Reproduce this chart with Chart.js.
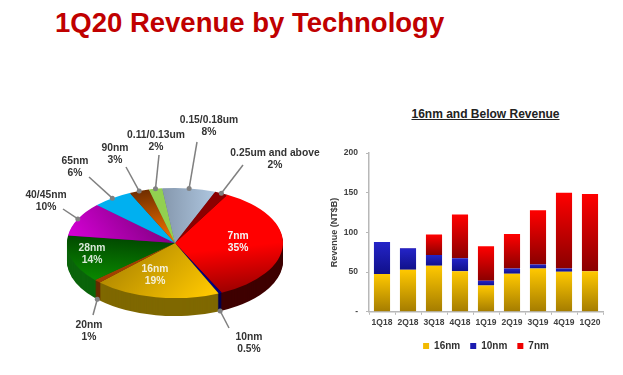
<!DOCTYPE html>
<html>
<head>
<meta charset="utf-8">
<title>1Q20 Revenue by Technology</title>
<script src="https://cdn.jsdelivr.net/npm/chart.js@4"></script>
<style>
  html, body { margin: 0; padding: 0; background: #fff; }
  body { position: relative; width: 623px; height: 375px; overflow: hidden; font-family: "Liberation Sans", Arial, sans-serif; filter: blur(0.4px); }
  #title { position: absolute; left: 55px; top: 7px; font-size: 27.5px; font-weight: bold; color: #c00000; white-space: nowrap; }
  #barTitle { position: absolute; left: 320px; width: 331px; top: 107px; text-align: center; font-size: 12px; font-weight: bold; color: #222; text-decoration: underline; white-space: nowrap; }
  #pie { position: absolute; left: 0; top: 100px; }
  #bars { position: absolute; left: 320px; top: 140px; }
</style>
</head>
<body>
<div id="title">1Q20 Revenue by Technology</div>
<div id="barTitle">16nm and Below Revenue</div>
<canvas id="pie" width="320" height="275"></canvas>
<canvas id="bars" width="303" height="235"></canvas>
<script>
// pie: share of 1Q20 revenue
const techNames = ["7nm", "10nm", "16nm", "20nm", "28nm", "40/45nm", "65nm", "90nm", "0.11/0.13um", "0.15/0.18um", "0.25um and above"];
const techShares = [35, 0.5, 19, 1, 14, 10, 6, 3, 2, 8, 2];
const techShareText = ["35%", "0.5%", "19%", "1%", "14%", "10%", "6%", "3%", "2%", "8%", "2%"];

// bars: revenue per quarter, NT$B
const quarters = ["1Q18", "2Q18", "3Q18", "4Q18", "1Q19", "2Q19", "3Q19", "4Q19", "1Q20"];
const rev16nm = [47.5, 53, 58, 51, 33, 48, 54.5, 50.5, 51];
const rev10nm = [40.5, 27, 13.5, 16.5, 6, 6.5, 5, 4, 0.5];
const rev7nm = [0, 0.5, 26, 55, 43.5, 43.5, 68.5, 95.5, 97];

// pie look: top face gradient (x0,y0,x1,y1 in radius units, from colour, to colour), side colour
const sliceLook = [
  [0, 0.2, 0.2, 1.1, "#ff0000", "#8c0000", "#3f0000"],
  [0, 0, 0, 1, "#000080", "#000080", "#000050"],
  [-0.6, 0.3, 0.4, 0.8, "#ae8600", "#ffc800", "#7f6800"],
  [0, 0, 0, 1, "#a04000", "#a04000", "#6a2a00"],
  [-0.5, -0.2, -0.6, 0.7, "#004000", "#0a8a00", "#0a640a"],
  [0, -0.3, -1, 0.1, "#7a007a", "#e000e0", "#600060"],
  [0, 0, 0, 1, "#00b0f0", "#00b0f0", "#0080b0"],
  [-0.3, -1, 0, -0.1, "#6a2a00", "#f07000", "#6a2a00"],
  [0, 0, 0, 1, "#92d050", "#92d050", "#608a30"],
  [-0.2, -0.8, 0.5, -0.8, "#7f90a5", "#b8d2ec", "#607080"],
  [0, 0, 0, 1, "#8b0000", "#8b0000", "#500000"]
];

// label centre and leader end on the page, null leader = label sits on the slice
const labelSpots = [
  { x: 238, y: 236, end: null, color: "#f4f4f4" },
  { x: 249, y: 337, end: [229, 328], color: "#333" },
  { x: 155, y: 269, end: null, color: "#f4f0d8" },
  { x: 89, y: 325, end: [93, 315], color: "#333" },
  { x: 92, y: 248, end: null, color: "#d8e8d8" },
  { x: 46, y: 195, end: [63, 209], color: "#333" },
  { x: 75, y: 161, end: [89, 177], color: "#333" },
  { x: 115, y: 148, end: [126, 167], color: "#333" },
  { x: 156, y: 135, end: [159, 155], color: "#333" },
  { x: 209, y: 120, end: [197, 142], color: "#333" },
  { x: 275, y: 153, end: [243, 165], color: "#333" }
];

const squash = 0.51;
const depth = 18;
const pieTop = 100;

Chart.defaults.font.family = '"Liberation Sans", Arial, sans-serif';
Chart.defaults.animation = false;

function sliceFill(context) {
  const look = sliceLook[context.dataIndex];
  if (!look) return "#888";
  const area = context.chart.chartArea;
  if (!area) return look[4];
  const cx = (area.left + area.right) / 2;
  const cy = (area.top + area.bottom) / 2;
  const r = (area.right - area.left) / 2;
  const g = context.chart.ctx.createLinearGradient(cx + look[0] * r, cy + look[1] * r, cx + look[2] * r, cy + look[3] * r);
  g.addColorStop(0, look[4]);
  g.addColorStop(1, look[5]);
  return g;
}

const tiltPlugin = {
  id: "tilt",
  beforeDatasetDraw(chart, args) {
    const ctx = chart.ctx;
    const arcs = args.meta.data;
    const cx = arcs[0].x;
    const cy = arcs[0].y;
    ctx.save();
    ctx.translate(0, cy);
    ctx.scale(1, squash);
    ctx.translate(0, -cy);
    // side wall, painted from the bottom up
    for (let d = depth; d > 0; d--) {
      arcs.forEach((arc, i) => {
        ctx.fillStyle = sliceLook[i][6];
        ctx.beginPath();
        ctx.moveTo(cx, cy + d / squash);
        ctx.arc(cx, cy + d / squash, arc.outerRadius, arc.startAngle, arc.endAngle);
        ctx.closePath();
        ctx.fill();
      });
    }
  },
  afterDatasetDraw(chart, args) {
    chart.ctx.restore();
    drawPieLabels(chart, args.meta.data);
  }
};

function drawPieLabels(chart, arcs) {
  const ctx = chart.ctx;
  ctx.save();
  ctx.textAlign = "center";
  ctx.textBaseline = "middle";
  ctx.font = 'bold 10.3px "Liberation Sans", Arial, sans-serif';
  arcs.forEach((arc, i) => {
    const spot = labelSpots[i];
    if (spot.end) {
      const mid = (arc.startAngle + arc.endAngle) / 2;
      let px = arc.x + arc.outerRadius * Math.cos(mid);
      let py = arc.y + arc.outerRadius * Math.sin(mid) * squash;
      if (Math.sin(mid) > 0) py += depth;
      ctx.strokeStyle = "#808080";
      ctx.fillStyle = "#808080";
      ctx.lineWidth = 1.5;
      ctx.beginPath();
      ctx.moveTo(px, py);
      ctx.lineTo(spot.end[0], spot.end[1] - pieTop);
      ctx.stroke();
      ctx.beginPath();
      ctx.arc(px, py, 2.5, 0, Math.PI * 2);
      ctx.fill();
    }
    ctx.fillStyle = spot.color;
    ctx.fillText(techNames[i], spot.x, spot.y - pieTop);
    ctx.fillText(techShareText[i], spot.x, spot.y - pieTop + 12.5);
  });
  ctx.restore();
}

new Chart(document.getElementById("pie"), {
  type: "pie",
  data: {
    labels: techNames,
    datasets: [{ data: techShares, backgroundColor: sliceFill, borderWidth: 0 }]
  },
  options: {
    responsive: false,
    rotation: 29,
    layout: { padding: { left: 67, right: 37, top: 35, bottom: 24 } },
    plugins: { legend: { display: false }, tooltip: { enabled: false } }
  },
  plugins: [tiltPlugin]
});

const barSeries = [rev16nm, rev10nm, rev7nm];
const barShades = [["#ffc800", "#a47c00"], ["#2424c8", "#10108a"], ["#ff0000", "#8a0000"]];
const swatchColors = ["#f2ba00", "#1c1cb0", "#ee0000"];

function barFill(context) {
  const s = context.datasetIndex;
  const y = context.chart.scales.y;
  const i = context.dataIndex;
  let base = 0;
  for (let k = 0; k < s; k++) base += barSeries[k][i];
  const top = y.getPixelForValue(base + barSeries[s][i]);
  const bottom = y.getPixelForValue(base);
  if (!isFinite(top) || !isFinite(bottom) || top === bottom) return barShades[s][0];
  const g = context.chart.ctx.createLinearGradient(0, top, 0, bottom);
  g.addColorStop(0, barShades[s][0]);
  g.addColorStop(1, barShades[s][1]);
  return g;
}

new Chart(document.getElementById("bars"), {
  type: "bar",
  data: {
    labels: quarters,
    datasets: [
      { label: "16nm", data: rev16nm, backgroundColor: barFill },
      { label: "10nm", data: rev10nm, backgroundColor: barFill },
      { label: "7nm", data: rev7nm, backgroundColor: barFill }
    ]
  },
  options: {
    responsive: false,
    layout: { padding: { top: 12, right: 20, bottom: 14 } },
    datasets: { bar: { barPercentage: 0.62, categoryPercentage: 1 } },
    scales: {
      x: {
        stacked: true,
        grid: { drawOnChartArea: false, color: "#b8b8b8", tickLength: 3, lineWidth: 1 },
        border: { color: "#b8b8b8", width: 1.5 },
        ticks: { color: "#404040", font: { size: 8.5, weight: "bold" }, maxRotation: 0, autoSkip: false, padding: 3 }
      },
      y: {
        stacked: true,
        min: 0,
        max: 200,
        afterFit(scale) { scale.width = 49; },
        title: { display: true, text: "Revenue (NT$B)", color: "#404040", font: { size: 9, weight: "bold" }, padding: { top: 9, bottom: 0 } },
        grid: { drawOnChartArea: false, color: "#b8b8b8", tickLength: 3, lineWidth: 1 },
        border: { color: "#b8b8b8", width: 1.5 },
        ticks: {
          color: "#404040",
          font: { size: 8.5, weight: "bold" },
          stepSize: 50,
          padding: 8,
          callback: (v) => (v === 0 ? "-" : v)
        }
      }
    },
    plugins: {
      tooltip: { enabled: false },
      legend: {
        position: "bottom",
        fullSize: false,
        labels: {
          color: "#303030",
          font: { size: 10, weight: "bold" },
          boxWidth: 6,
          boxHeight: 6,
          padding: 10,
          generateLabels(chart) {
            return Chart.defaults.plugins.legend.labels.generateLabels(chart).map((item, i) => {
              item.fillStyle = swatchColors[i];
              return item;
            });
          }
        }
      }
    }
  }
});
</script>
</body>
</html>
